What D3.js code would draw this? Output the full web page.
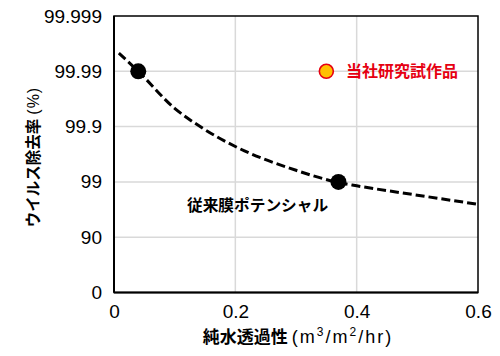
<!DOCTYPE html>
<html><head><meta charset="utf-8">
<script src="https://cdn.jsdelivr.net/npm/d3@7"></script>
<style>body{margin:0;background:#fff}</style>
</head><body>
<svg id="c" width="500" height="356"></svg>
<script>
// Y values are log reduction values: 0 -> 0%, 1 -> 90%, 2 -> 99% ...
const yTickValues = [0, 1, 2, 3, 4, 5];
const yTickLabels = ["0", "90", "99", "99.9", "99.99", "99.999"];
const xTickValues = [0, 0.2, 0.4, 0.6];
const xTickLabels = ["0", "0.2", "0.4", "0.6"];
// conventional membrane potential curve (flux, LRV)
const curveX = [0.008, 0.04, 0.1, 0.142, 0.2, 0.3, 0.37, 0.4, 0.5, 0.6];
const curveY = [4.33, 4.0, 3.33, 3.0, 2.64, 2.21, 1.99, 1.93, 1.76, 1.595];
// conventional membrane points
const convX = [0.04, 0.37];
const convY = [4, 2];
// in-house prototype
const protoX = [0.35];
const protoY = [4];

const svg = d3.select("#c");
const L = 114, R = 478, T = 16, B = 292.5;
const x = d3.scaleLinear().domain([0, 0.6]).range([L, R]);
const y = d3.scaleLinear().domain([0, 5]).range([B, T]);
const latin = "'Liberation Sans', Arial, sans-serif";
const cjk = "'Noto Sans CJK JP', sans-serif";

// grid
svg.append("g").selectAll("line").data(xTickValues.slice(1, -1)).join("line")
  .attr("x1", d => x(d)).attr("x2", d => x(d)).attr("y1", T).attr("y2", B)
  .attr("stroke", "#d9d9d9").attr("stroke-width", 1.5);
svg.append("g").selectAll("line").data(yTickValues.slice(1, -1)).join("line")
  .attr("x1", L).attr("x2", R).attr("y1", d => y(d)).attr("y2", d => y(d))
  .attr("stroke", "#d9d9d9").attr("stroke-width", 1.5);

// frame
svg.append("rect").attr("x", L).attr("y", T).attr("width", R - L).attr("height", B - T)
  .attr("fill", "none").attr("stroke", "#000").attr("stroke-width", 1.5);
svg.append("line").attr("x1", L).attr("x2", L).attr("y1", T).attr("y2", B).attr("stroke", "#000").attr("stroke-width", 2);
svg.append("line").attr("x1", L).attr("x2", R).attr("y1", B).attr("y2", B).attr("stroke", "#000").attr("stroke-width", 2);

// axes tick labels via d3 axes
const yAxis = d3.axisLeft(y).tickValues(yTickValues).tickFormat((d, i) => yTickLabels[i]).tickSize(0).tickPadding(12);
const gy = svg.append("g").attr("transform", `translate(${L},0)`).call(yAxis);
gy.select(".domain").remove();
gy.selectAll("text").attr("font-family", latin).attr("font-size", 19).attr("fill", "#000");

const xAxis = d3.axisBottom(x).tickValues(xTickValues).tickFormat((d, i) => xTickLabels[i]).tickSize(0).tickPadding(12);
const gx = svg.append("g").attr("transform", `translate(0,${B})`).call(xAxis);
gx.select(".domain").remove();
gx.selectAll("text").attr("font-family", latin).attr("font-size", 19).attr("fill", "#000");

// dashed curve
const pts = curveX.map((d, i) => [d, curveY[i]]);
svg.append("path").datum(pts)
  .attr("d", d3.line().x(d => x(d[0])).y(d => y(d[1])).curve(d3.curveMonotoneX))
  .attr("fill", "none").attr("stroke", "#000").attr("stroke-width", 3).attr("stroke-dasharray", "9,4");

// points
svg.append("g").selectAll("circle").data(convX.map((d, i) => [d, convY[i]])).join("circle")
  .attr("cx", d => x(d[0])).attr("cy", d => y(d[1])).attr("r", 8).attr("fill", "#000");
svg.append("g").selectAll("circle").data(protoX.map((d, i) => [d, protoY[i]])).join("circle")
  .attr("cx", d => x(d[0])).attr("cy", d => y(d[1])).attr("r", 7).attr("fill", "#FFC000")
  .attr("stroke", "#E60012").attr("stroke-width", 1.6);

// annotations
svg.append("text").attr("x", 346).attr("y", y(4)).attr("dy", "0.36em")
  .attr("font-family", cjk).attr("font-weight", "bold").attr("font-size", 16).attr("fill", "#E60012")
  .text("当社研究試作品");
svg.append("text").attr("x", 187).attr("y", 205).attr("dy", "0.36em")
  .attr("font-family", cjk).attr("font-weight", "bold").attr("font-size", 15.7).attr("fill", "#000")
  .text("従来膜ポテンシャル");

// axis titles
const xt = svg.append("text").attr("x", 298).attr("y", 337).attr("dy", "0.36em").attr("text-anchor", "middle")
  .attr("font-family", cjk).attr("fill", "#000");
xt.append("tspan").attr("font-weight", "bold").attr("font-size", 17).text("純水透過性");
xt.append("tspan").attr("font-size", 18).attr("dx", 4).attr("font-family", latin).attr("letter-spacing", 2).text("(m");
xt.append("tspan").attr("font-size", 12).attr("dy", -7).attr("font-family", latin).attr("letter-spacing", 2).text("3");
xt.append("tspan").attr("font-size", 18).attr("dy", 7).attr("font-family", latin).attr("letter-spacing", 2).text("/m");
xt.append("tspan").attr("font-size", 12).attr("dy", -7).attr("font-family", latin).attr("letter-spacing", 2).text("2");
xt.append("tspan").attr("font-size", 18).attr("dy", 7).attr("font-family", latin).attr("letter-spacing", 2).text("/hr)");

const yt = svg.append("text").attr("transform", "translate(33,157) rotate(-90)").attr("dy", "0.36em")
  .attr("text-anchor", "middle").attr("font-family", cjk).attr("fill", "#000");
yt.append("tspan").attr("font-weight", "bold").attr("font-size", 15.5).text("ウイルス除去率");
yt.append("tspan").attr("font-size", 16).attr("dx", 4).attr("font-family", latin).attr("letter-spacing", 1).text("(%)");
</script>
</body></html>
